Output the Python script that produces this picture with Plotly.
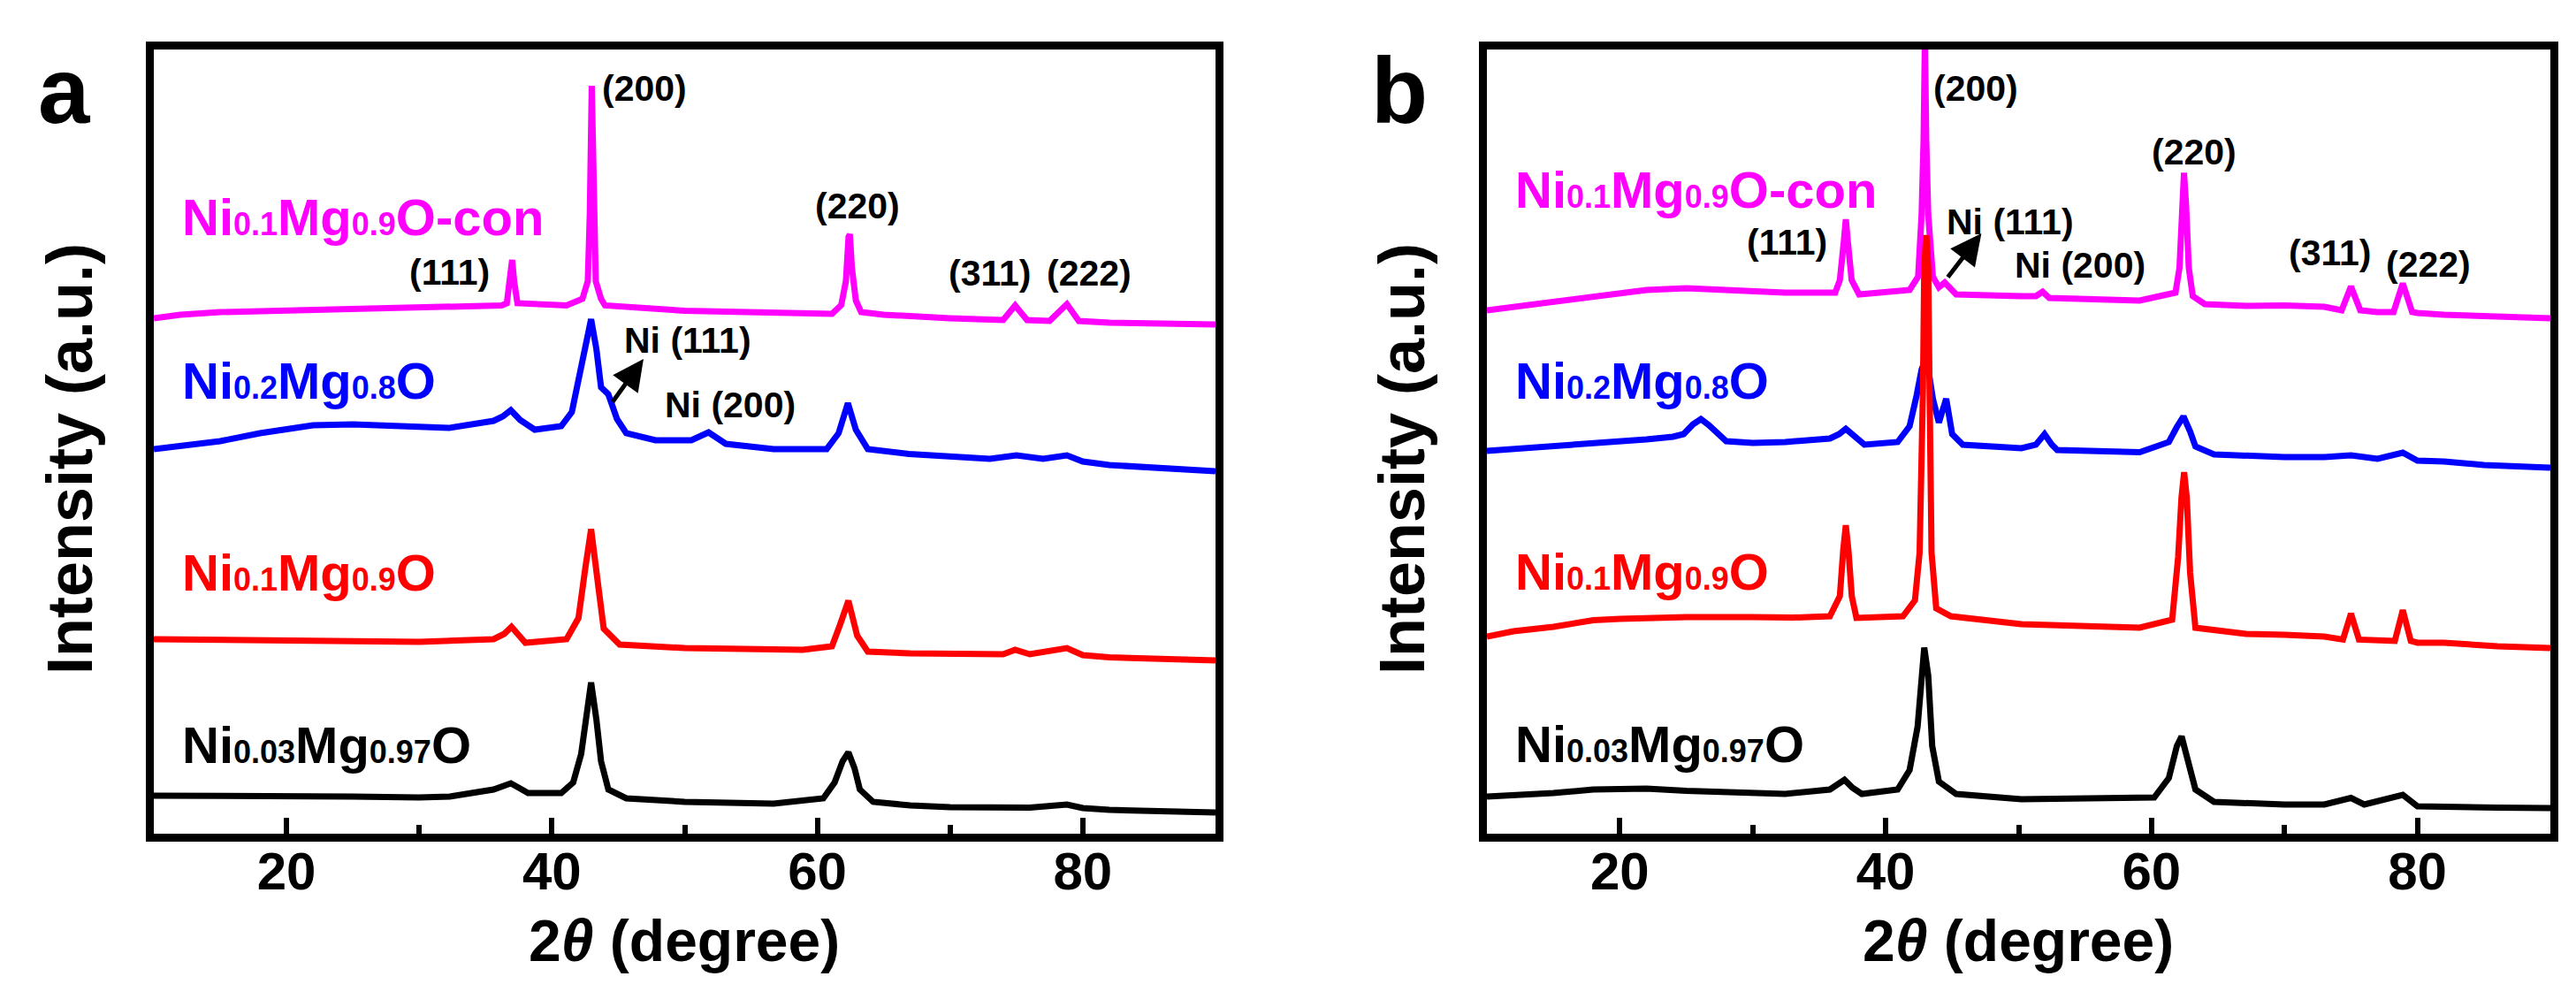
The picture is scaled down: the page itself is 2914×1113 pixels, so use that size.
import plotly.graph_objects as go

# XRD patterns (2theta in degree, intensity in a.u. with the stacking offset)
# panel a
a_black_x = [10, 15, 20, 25, 30, 32.3, 35.6, 36.3, 36.9, 37.5, 38.2, 40.7, 41.6, 42.2, 42.6, 42.95, 43.35, 43.7,
             44.25, 45.6, 50, 56.7, 60.45, 61.3, 61.9, 62.34, 62.8, 63.2, 64.2, 67, 70, 74, 75, 76, 78.8, 80, 82, 86, 90]
a_black_y = [43, 43, 43, 42, 41, 42, 50, 53, 57, 52, 46, 46, 58, 90, 133, 171, 129, 82,
             50, 40, 36, 34, 40, 58, 82, 92, 74, 50, 36, 32, 30, 29.5, 31, 29.5, 33, 29, 27, 25, 24]

a_red_x = [10, 15, 20, 25, 30, 35.6, 36.4, 36.95, 37.5, 38.0, 41.1, 42.0, 42.5, 42.95, 43.5, 43.9, 45.1, 50, 58.9,
           61.1, 61.7, 62.34, 63.0, 63.8, 67, 70, 74, 74.9, 76, 78.8, 80, 82, 86, 90]
a_red_y = [220, 219.5, 218.5, 217, 217, 220, 226, 234, 224, 216, 220, 244, 299, 344.5, 279, 232, 214, 210, 208,
           212, 236, 263.5, 224, 206, 204, 204, 203, 208, 203, 210, 202, 199.5, 198, 196]

a_blue_x = [10, 12, 15, 18, 20, 22, 25, 28, 31, 32.25, 35.6, 36.3, 36.9, 37.6, 38.7, 40.7, 41.5, 42.0, 42.5,
            42.95, 43.35, 43.7, 44.25, 44.9, 45.6, 47.8, 50.5, 51.2, 51.8, 52.4, 53.1, 56.7, 60.7, 61.6, 62.3,
            62.9, 63.8, 66.9, 70, 73, 75, 77, 78.8, 80, 82, 85, 88, 90]
a_blue_y = [435, 439, 444, 453, 458, 462, 463, 462, 460, 459, 467, 472, 479, 468, 457, 461, 477, 516, 556,
            582, 548, 505, 497, 469, 453, 445, 445, 449, 454, 448, 441, 435, 435, 453, 487,
            457, 435, 429.5, 426, 424, 428, 424, 428, 421, 417, 414, 412, 410]

a_mag_x = [10, 12, 15, 20, 26, 30, 36.2, 36.6, 36.85, 37.0, 37.15, 37.4, 41.1, 42.0, 42.3, 42.7, 42.85, 43.0,
           43.15, 43.3, 43.7, 44.0, 50, 61.1, 61.8, 62.15, 62.35, 62.45, 62.6, 62.9, 63.3, 65, 70, 74, 74.9,
           75.8, 77.5, 78.8, 79.7, 82, 86, 90]
a_mag_y = [583, 587, 590, 592, 593, 595, 597.5, 600, 625, 649, 625, 600, 597.5, 603, 605, 625, 700, 846,
           700, 625, 605, 597.5, 591.5, 588, 598, 625, 675, 678, 640, 603, 590, 587, 583, 581, 597.5,
           581, 580, 599, 580, 578, 577, 576]

# panel b
b_black_x = [10, 12, 15, 18, 20, 22, 25, 28, 30, 32.44, 35.8, 36.4, 36.9, 37.5, 38.2, 40.9, 41.8, 42.4, 42.9,
             43.2, 43.5, 44.0, 45.3, 50.2, 60.2, 61.3, 61.9, 62.26, 62.8, 63.3, 64.7, 67.1, 70, 73, 75, 76,
             78.9, 80, 82, 86, 90]
b_black_y = [42, 43, 46, 50, 51, 51, 48.5, 47, 46, 45, 50, 55, 61, 52, 45, 50, 72, 121, 210.5,
             179, 99, 59, 45, 39, 41, 63, 99, 110, 81, 50, 36, 34, 33, 33, 40.5, 33,
             44, 31, 30, 29.5, 29]

b_red_x = [10, 12, 15, 18, 20, 25, 30, 33, 35.8, 36.55, 36.8, 37.0, 37.2, 37.45, 37.8, 41.3, 42.2, 42.55, 42.8,
           42.9, 43.05, 43.2, 43.3, 43.45, 43.8, 44.9, 50.2, 59.1, 61.55, 62.0, 62.25, 62.45, 62.65, 62.9,
           63.3, 67.1, 70, 73, 74.4, 75.0, 75.6, 77, 78.3, 78.9, 79.5, 80, 82, 86, 90]
b_red_y = [223, 229, 234, 241.5, 243, 245, 245, 244.4, 246, 268.6, 320, 349, 320, 268.6, 244, 246, 264, 318, 500,
           640, 677, 640, 500, 318, 255, 246, 237, 233, 242, 313, 380, 409, 380, 295,
           233, 226, 225, 223, 219.6, 249, 219.6, 218, 218, 253, 218, 216, 216, 212, 210]

b_blue_x = [10, 12, 15, 18, 20, 22, 24, 24.8, 25.5, 26.1, 26.7, 27.5, 28, 30, 32.44, 35.8, 36.5, 37.0, 37.6,
            38.4, 40.9, 41.8, 42.33, 42.7, 43.06, 43.55, 44.0, 44.3, 44.55, 44.8, 45.0, 45.8, 50.2, 51.3,
            51.95, 52.5, 52.9, 59.1, 61.3, 61.9, 62.4, 62.9, 63.3, 64.7, 67.1, 70, 73, 75, 77, 78.9, 80,
            82, 85, 88, 90]
b_blue_y = [433, 435, 439, 442, 444, 446, 449, 452, 463, 469, 462, 450, 444, 442, 443, 447, 452, 458, 450,
            440, 443, 461, 496, 525, 539, 492, 465, 478, 492, 470, 452, 440, 436, 440,
            452, 440, 434, 431.5, 443, 460, 472, 455, 438, 429, 427, 426, 426, 428, 424, 431, 422,
            421, 417, 415, 414]

b_mag_x = [10, 12, 15, 18, 20, 22, 25, 28, 30, 32.44, 36.2, 36.55, 36.85, 37.0, 37.15, 37.44, 38.0, 41.8,
           42.44, 42.7, 42.85, 42.95, 43.05, 43.2, 43.55, 44.0, 44.44, 44.9, 45.3, 50.2, 51.3, 51.8, 52.3,
           59.1, 61.8, 62.1, 62.3, 62.44, 62.6, 62.8, 63.1, 64.0, 67.1, 70, 73, 74.3, 75.0, 75.7, 77,
           78.2, 78.9, 79.6, 80, 82, 86, 90]
b_mag_y = [592, 596, 601, 608, 612, 615, 617, 615, 614, 612, 612, 626, 670, 695, 670, 626, 610, 615,
           630, 700, 785, 900, 785, 700, 630, 618, 623.5, 615, 610, 608, 608, 613, 606,
           603, 612, 640, 710, 747.5, 710, 640, 608, 599, 597, 597.5, 596, 592, 619, 592, 590,
           590, 622.5, 590, 589, 587, 585, 583]

# sample labels (subscripts kept on the baseline, small, as in the original)
SUB = '<span style="font-size:36px">{}</span>'
sample_names = ["Ni" + SUB.format("0.03") + "Mg" + SUB.format("0.97") + "O",
                "Ni" + SUB.format("0.1") + "Mg" + SUB.format("0.9") + "O",
                "Ni" + SUB.format("0.2") + "Mg" + SUB.format("0.8") + "O",
                "Ni" + SUB.format("0.1") + "Mg" + SUB.format("0.9") + "O-con"]
sample_colors = ["#000000", "#FF0000", "#0000FF", "#FF00FF"]
sample_label_y_a = [101, 296, 513, 697]
sample_label_y_b = [102, 297, 513, 728]

# peak labels (text, 2theta, intensity)
peaks_a = [("(200)", 47.0, 843), ("(111)", 32.3, 635), ("(220)", 63.0, 710), ("(311)", 73.0, 634),
           ("(222)", 80.5, 634), ("Ni (111)", 50.2, 558), ("Ni (200)", 53.4, 485)]
peaks_b = [("(200)", 46.8, 843), ("(111)", 32.6, 669), ("(220)", 63.2, 771), ("(311)", 73.4, 657),
           ("(222)", 80.8, 644), ("Ni (111)", 49.4, 692), ("Ni (200)", 54.6, 643)]

FONT = "Liberation Sans, Arial, sans-serif"
W, H = 2914, 1113

fig = go.Figure()

panel_a = [(a_black_x, a_black_y), (a_red_x, a_red_y), (a_blue_x, a_blue_y), (a_mag_x, a_mag_y)]
panel_b = [(b_black_x, b_black_y), (b_red_x, b_red_y), (b_blue_x, b_blue_y), (b_mag_x, b_mag_y)]
draw_order = [0, 2, 3, 1]  # red on top, as in the original

for ax, panel in [("", panel_a), ("2", panel_b)]:
    for i in draw_order:
        xs, ys = panel[i]
        fig.add_trace(go.Scatter(x=xs, y=ys, mode="lines", xaxis="x" + ax, yaxis="y" + ax,
                                 line=dict(color=sample_colors[i], width=7), showlegend=False,
                                 hoverinfo="skip"))

axis_common = dict(showline=True, linewidth=9, linecolor="black", mirror=True,
                   showgrid=False, zeroline=False)
xcommon = dict(axis_common, range=[10, 90], tickvals=[20, 40, 60, 80], ticks="inside",
               ticklen=18, tickwidth=6, tickcolor="black", ticklabelstandoff=-18,
               tickfont=dict(family=FONT, size=60, color="black", weight="bold"),
               minor=dict(tickvals=[30, 50, 70], ticks="inside", ticklen=10, tickwidth=6,
                          tickcolor="black"))
ycommon = dict(axis_common, range=[0, 887], showticklabels=False, ticks="")

ydom = [1 - 935 / H, 1 - 48 / H]
fig.update_layout(
    width=W, height=H, margin=dict(l=0, r=0, t=0, b=0),
    paper_bgcolor="white", plot_bgcolor="white", showlegend=False,
    xaxis=dict(xcommon, domain=[166 / W, 1367 / W], anchor="y"),
    yaxis=dict(ycommon, domain=ydom, anchor="x"),
    xaxis2=dict(xcommon, domain=[1674 / W, 2877 / W], anchor="y2"),
    yaxis2=dict(ycommon, domain=ydom, anchor="x2"),
)

ann = []
for ax, labels_y, peaks in [("", sample_label_y_a, peaks_a), ("2", sample_label_y_b, peaks_b)]:
    for name, col, yy in zip(sample_names, sample_colors, labels_y):
        ann.append(dict(text=name, x=12.0, y=yy, xref="x" + ax, yref="y" + ax, xanchor="left",
                        yanchor="middle", showarrow=False,
                        font=dict(family=FONT, size=58, color=col, weight="bold")))
    for txt, px, py in peaks:
        ann.append(dict(text=txt, x=px, y=py, xref="x" + ax, yref="y" + ax, xanchor="center",
                        yanchor="middle", showarrow=False,
                        font=dict(family=FONT, size=41, color="black", weight="bold")))

# arrows pointing to the Ni (111) shoulder
for ax, tail, head in [("", (44.5, 487), (46.9, 537)), ("2", (44.6, 628), (47.2, 679))]:
    ann.append(dict(text="", x=head[0], y=head[1], ax=tail[0], ay=tail[1], xref="x" + ax, yref="y" + ax,
                    axref="x" + ax, ayref="y" + ax, showarrow=True, arrowhead=2, arrowsize=1.4,
                    arrowwidth=5, arrowcolor="black", standoff=0, startstandoff=0))

# axis titles and panel letters
for xc, yt_x, letter, lx in [(766, 71, "a", 65), (2275, 1578, "b", 1575)]:
    ann.append(dict(text="2<i>θ</i> (degree)", x=xc / W, y=1 - 1056 / H, xref="paper", yref="paper",
                    xanchor="center", yanchor="middle", showarrow=False,
                    font=dict(family=FONT, size=66, color="black", weight="bold")))
    ann.append(dict(text="Intensity (a.u.)", x=yt_x / W, y=1 - 511 / H, xref="paper", yref="paper",
                    xanchor="center", yanchor="middle", textangle=-90, showarrow=False,
                    font=dict(family=FONT, size=72, color="black", weight="bold")))
    ann.append(dict(text=letter, x=lx / W, y=1 - 94 / H, xref="paper", yref="paper",
                    xanchor="center", yanchor="middle", showarrow=False,
                    font=dict(family=FONT, size=105, color="black", weight="bold")))

fig.update_layout(annotations=ann)

fig.write_html("out.html")
